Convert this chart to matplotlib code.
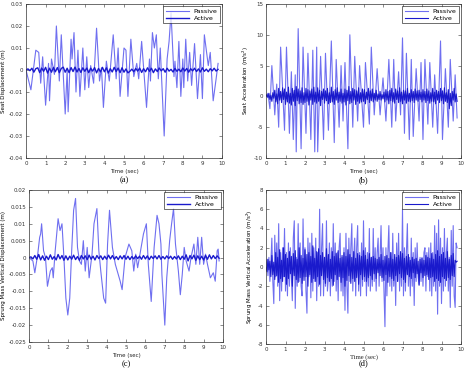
import numpy as np
import matplotlib
matplotlib.use("Agg")
import matplotlib.pyplot as plt

# ---------------- data ----------------
# (a) seat displacement, passive: extrema (time, value)
pa_t = [0, 0.25, 0.5, 0.65, 0.75, 0.85, 1.0, 1.15, 1.2, 1.3, 1.45, 1.55, 1.7, 1.8, 2.0, 2.1, 2.15, 2.3, 2.35,
        2.45, 2.55, 2.65, 2.75, 2.9, 3.0, 3.1, 3.2, 3.3, 3.45, 3.6, 3.75, 3.85, 3.95, 4.1, 4.25, 4.45, 4.6,
        4.7, 4.8, 5.0, 5.1, 5.2, 5.35, 5.5, 5.65, 5.75, 5.9, 6.0, 6.15, 6.3, 6.35, 6.45, 6.55, 6.65, 6.75,
        6.85, 7.05, 7.2, 7.3, 7.4, 7.55, 7.6, 7.7, 7.8, 7.9, 8.0, 8.05, 8.15, 8.25, 8.35, 8.45, 8.6, 8.75,
        8.9, 9.0, 9.1, 9.3, 9.4, 9.55, 9.7, 9.8]
pa_v = [0, -0.009, 0.009, 0.008, -0.006, 0.006, -0.016, 0.003, -0.014, 0.005, -0.002, 0.020, -0.005, 0.016,
        -0.020, 0.0, -0.019, 0.014, 0.005, 0.017, -0.010, 0.009, -0.012, 0.010, -0.009, 0.006, -0.008, 0.002,
        -0.006, 0.019, -0.005, 0.001, -0.017, 0.004, -0.005, 0.016, -0.004, 0.010, -0.012, 0.010, 0.009,
        -0.012, 0.014, -0.003, 0.003, -0.004, 0.013, 0.001, -0.017, 0.005, -0.005, 0.017, 0.010, 0.016,
        -0.004, 0.010, -0.030, 0.005, 0.013, 0.026, -0.003, 0.004, -0.008, 0.013, -0.012, 0.005, -0.008,
        0.014, -0.005, 0.008, -0.007, 0.012, -0.013, 0.007, -0.013, 0.016, 0.002, 0.008, -0.014, -0.004,
        0.003]
# (a) active, sampled every 0.1 s
aa_v = [0, 0.0005, -0.0003, 0.0008, -0.0010, 0.0006, 0.0010, -0.0012, 0.0009, -0.0006,
        0.0012, -0.0014, 0.0008, -0.0010, 0.0012, -0.0008, 0.0011, -0.0012, 0.0007, 0.0013,
        -0.0010, 0.0008, -0.0012, 0.0011, -0.0007, 0.0013, -0.0009, 0.0007, -0.0011, 0.0010,
        -0.0006, 0.0009, -0.0012, 0.0008, -0.0005, 0.0011, -0.0013, 0.0007, -0.0009, 0.0012,
        -0.0008, 0.0010, -0.0014, 0.0006, -0.0009, 0.0012, -0.0007, 0.0009, -0.0012, 0.0010,
        -0.0010, 0.0005, -0.0013, -0.0006, 0.0004, -0.0008, 0.0007, -0.0005, 0.0009, -0.0011,
        0.0006, -0.0008, 0.0010, -0.0006, 0.0008, -0.0012, 0.0005, -0.0007, 0.0009, -0.0004,
        0.0006, -0.0010, 0.0008, -0.0005, 0.0003, -0.0009, 0.0007, -0.0006, 0.0004, -0.0008,
        0.0009, -0.0005, 0.0007, -0.0010, 0.0006, -0.0004, 0.0008, -0.0007, 0.0005, -0.0009,
        0.0010, -0.0006, 0.0004, -0.0008, 0.0006, -0.0004, 0.0008, -0.0005, 0.0003]

# (b) seat acceleration, passive extrema
pb_t = [0, 0.1, 0.2, 0.3, 0.45, 0.55, 0.65, 0.75, 0.95, 1.05, 1.2, 1.3, 1.4, 1.5, 1.55, 1.65, 1.8, 1.9, 2.05,
        2.15, 2.3, 2.4, 2.5, 2.6, 2.65, 2.8, 2.95, 3.05, 3.2, 3.35, 3.5, 3.6, 3.75, 3.85, 3.95, 4.05, 4.2,
        4.3, 4.45, 4.55, 4.7, 4.8, 5.0, 5.1, 5.3, 5.4, 5.55, 5.7, 5.85, 6.0, 6.15, 6.3, 6.45, 6.55, 6.65,
        6.8, 6.9, 7.0, 7.1, 7.2, 7.35, 7.45, 7.55, 7.7, 7.85, 7.95, 8.05, 8.15, 8.3, 8.4, 8.55, 8.65, 8.8,
        8.95, 9.05, 9.2, 9.35, 9.45, 9.6, 9.7, 9.8]
pb_v = [0, 0.5, -2, 5, -3, 2, -5, 8, -5.5, 8, -6, 4, -7, 3.5, -9, 11, -8.5, 8, -6, 7, -7, 7.5, -9, 8, -9,
        6.5, -7, 7, -5.5, 9, -7.5, 6, -5, 5, -4, 5.5, -8.5, 10, -5, 6.5, -4, 5, -5, 5.5, -4.5, 8, -3, 4.5,
        -3, 3, -4, 6, -5, 6, -4, 4, -3, 9.5, -6, 7, -7, 6, -6.5, 4.5, -4, 5.5, -7, 6, -4.5, 5.5, -5, 3.5,
        -6, 9, -7, 4.5, -5, 6, -4, 3.5, -3.5]
# (b) active, sampled every 0.05 s
ab_v = [0, 0.3, -0.2, 0.5, -0.5, 0.2, -0.8, 0.6, -0.3, 1.0, -0.9, 0.4, -1.2, 1.3, -0.6, 0.8, -1.0, 1.4, -0.5, 1.2,
        -1.3, 0.7, -0.9, 1.5, -1.1, 0.5, -1.4, 1.3, -0.8, 1.0, -1.5, 1.6, -0.7, 1.2, -1.2, 0.9, -1.0, 1.4, -1.3, 0.6,
        -1.0, 1.3, -0.8, 1.1, -1.4, 0.9, -0.6, 1.2, -1.3, 1.5, -0.9, 0.7, -1.1, 1.4, -0.8, 1.0, -1.5, 0.8, -0.5, 1.2,
        -1.1, 0.9, -0.7, 1.3, -1.2, 0.6, -1.0, 1.5, -0.9, 0.8, -1.3, 1.1, -0.6, 1.4, -1.0, 0.7, -0.8, 1.2, -1.1, 0.5,
        -0.9, 1.2, -1.4, 1.0, -0.7, 1.6, -1.2, 0.8, -1.0, 1.3, -0.6, 1.1, -1.3, 0.9, -0.8, 1.4, -1.1, 0.6, -0.9, 1.2,
        -0.8, 1.1, -1.2, 0.7, -0.5, 1.3, -1.0, 0.9, -0.7, 1.2, -0.9, 0.5, -0.6, 1.0, -0.8, 0.4, -0.5, 0.8, -0.6, 0.3,
        -0.4, 0.7, -0.9, 1.1, -0.6, 0.8, -1.2, 1.0, -0.7, 1.3, -0.9, 0.6, -1.1, 1.2, -0.5, 0.9, -1.0, 1.4, -0.8, 0.7,
        -1.2, 1.0, -0.6, 0.9, -1.1, 1.3, -0.8, 0.5, -0.9, 1.1, -0.7, 0.8, -1.0, 1.2, -0.6, 0.9, -0.8, 1.0, -0.5, 0.7,
        -0.9, 1.1, -0.6, 0.8, -1.0, 1.2, -0.7, 0.9, -1.1, 0.6, -0.8, 1.3, -0.9, 0.7, -1.2, 1.0, -0.6, 0.8, -1.0, 1.3,
        -0.7, 0.9, -1.2, 1.4, -0.8, 0.6, -1.0, 1.1, -2.0, 0.5, -1.5, 0.8, -0.6, 1.3, -0.9, 0.4, -0.8]

# (c) sprung mass displacement, passive extrema
pc_t = [0, 0.2, 0.3, 0.45, 0.55, 0.6, 0.65, 0.75, 0.85, 0.95, 1.1, 1.2, 1.25, 1.35, 1.5, 1.6, 1.7, 1.8, 1.9,
        2.0, 2.1, 2.2, 2.3, 2.4, 2.5, 2.6, 2.7, 2.8, 2.9, 3.0, 3.1, 3.25, 3.35, 3.5, 3.6, 3.7, 3.85, 3.95,
        4.05, 4.15, 4.3, 4.45, 4.6, 4.7, 4.8, 4.95, 5.05, 5.15, 5.3, 5.4, 5.5, 5.6, 5.75, 5.9, 6.05, 6.15,
        6.3, 6.45, 6.6, 6.7, 6.8, 6.85, 7.0, 7.1, 7.25, 7.35, 7.45, 7.55, 7.7, 7.8, 7.9, 8.0, 8.1, 8.25,
        8.35, 8.5, 8.6, 8.7, 8.8, 8.9, 9.0, 9.1, 9.2, 9.35, 9.5, 9.6, 9.7, 9.75, 9.8]
pc_v = [0, -0.001, -0.0045, 0.001, 0.006, 0.007, 0.010, 0.002, 0.0, -0.0085, -0.004, -0.003, -0.006, 0.002,
        0.0115, 0.008, 0.010, 0.0, -0.012, -0.017, -0.012, 0.002, 0.014, 0.0175, 0.003, -0.001, -0.002,
        0.005, -0.004, 0.003, -0.006, 0.001, 0.010, 0.0145, 0.002, -0.004, -0.012, -0.0135, 0.004, 0.014,
        0.003, -0.002, -0.005, -0.007, -0.0095, 0.0, 0.002, 0.004, 0.002, -0.004, 0.001, -0.003, 0.002,
        0.007, 0.010, -0.002, -0.013, 0.003, 0.0125, 0.010, 0.004, -0.005, -0.020, -0.006, 0.005, 0.010,
        0.0145, 0.004, -0.004, -0.011, -0.005, 0.003, -0.001, -0.004, 0.0, 0.004, -0.002, 0.006, -0.002,
        0.006, -0.002, 0.001, -0.002, -0.006, -0.0045, -0.007, 0.002, 0.0025, -0.001]
# (c) active, sampled every 0.1 s
ac_v = [0, 0.0002, -0.0004, 0.0006, -0.0005, 0.0009, -0.0007, 0.0005, -0.0008, 0.0004,
        -0.0006, 0.0008, -0.0005, 0.0003, -0.0007, 0.0009, -0.0004, 0.0006, -0.0008, 0.0005,
        -0.0007, 0.0004, -0.0005, 0.0007, -0.0006, 0.0003, -0.0008, 0.0006, -0.0004, 0.0005,
        -0.0006, 0.0007, -0.0005, 0.0004, -0.0007, 0.0006, -0.0003, 0.0005, -0.0006, 0.0004,
        -0.0005, 0.0007, -0.0004, 0.0006, -0.0005, 0.0003, -0.0006, 0.0005, -0.0004, 0.0006,
        -0.0005, 0.0004, -0.0006, 0.0003, -0.0004, 0.0005, -0.0003, 0.0004, -0.0005, 0.0006,
        -0.0004, 0.0005, -0.0006, 0.0004, -0.0003, 0.0005, -0.0004, 0.0006, -0.0005, 0.0003,
        -0.0004, 0.0005, -0.0003, 0.0004, -0.0005, 0.0003, -0.0004, 0.0005, -0.0006, 0.0004,
        -0.0005, 0.0008, -0.0010, 0.0006, -0.0004, 0.0007, -0.0008, 0.0005, -0.0006, 0.0004,
        -0.0007, 0.0006, -0.0005, 0.0008, -0.0004, 0.0006, -0.0003, 0.0005, -0.0002]

# (d) sprung mass acceleration, sampled every 0.05 s
pd_v = [0, 0.8, -0.9, 1.0, -1.5, 0.5, 3.0, -1.5, -3.8, 3.3, -1.0, 2.5, -2.0, 4.5, -3.5, 1.5, -2.5, 2.0, -1.0, 4.0,
        -2.5, 1.5, -3.0, 2.5, -2.0, 2.0, -1.0, -3.5, 3.0, 4.8, -4.3, 1.0, -2.0, 4.5, -1.5, 2.5, -2.0, -3.0, 5.0, -1.0,
        2.0, -2.5, -4.8, 3.0, -1.0, 2.5, -3.2, 3.5, -2.5, 2.0, -1.5, 3.0, -3.5, 1.5, -2.0, 6.0, -3.0, 2.0, 4.5, -3.0,
        1.0, -2.0, 4.8, -2.5, -1.0, 2.5, -3.0, 2.0, -2.0, 4.5, -1.5, 2.5, -2.5, 1.5, -3.5, 2.0, 3.5, -2.5, 1.0, -3.0,
        2.0, -4.5, 3.5, -2.0, -4.8, 3.0, -1.5, 2.0, 4.5, -2.5, 1.0, 3.0, -3.0, 2.0, 4.3, -2.5, 1.5, -3.0, 2.5, -2.0,
        4.8, -1.5, 2.0, -3.0, 1.5, -2.0, 4.0, -2.5, 1.0, -2.0, 4.0, -1.5, 2.0, -2.5, 1.5, 3.0, -2.0, 1.0, 4.3, -1.5,
        2.0, -2.5, -6.2, 2.0, -3.0, 1.5, 4.3, -2.0, 1.5, -2.5, 3.5, -2.0, 1.0, -4.0, 2.5, -1.5, 3.5, -2.5, 1.0, -2.0,
        6.0, -3.0, 2.0, -2.5, 1.5, 4.5, -2.0, 1.0, -3.0, 3.0, -2.0, 1.5, -4.0, 2.0, -1.5, 2.5, -1.0, -1.8, 1.0, -1.5,
        1.0, -2.0, 1.5, 2.0, -2.5, 1.5, -1.0, 2.0, -2.5, 2.5, -3.0, 1.5, -2.0, 4.3, -2.5, 3.5, -4.9, 4.9, -2.0, 3.0,
        -3.8, 2.0, -2.5, 4.0, -2.0, 1.5, 3.0, -2.5, 1.0, -4.2, 3.8, -2.0, 4.3, -3.0, -4.2, 2.5, 2.0]
ad_v = [0, -0.5, 0.8, -0.3, 0.6, -1.0, 1.2, -0.8, 0.5, -1.3, 1.5, -0.9, 1.0, -1.6, 1.8, -1.2, 0.7, -1.5, 2.0, -1.0,
        1.3, -1.8, 0.9, -1.2, 1.6, -0.7, 1.1, -2.0, 1.4, -0.9, 1.7, -1.3, 0.8, -1.6, 2.0, -1.1, 1.2, -1.7, 0.9, -1.4,
        1.8, -1.0, 1.3, -2.0, 1.5, -0.8, 1.1, -1.6, 2.2, -1.2, 0.9, -1.5, 1.6, -1.0, 1.9, -1.8, 1.2, -0.9, 1.5, -1.3,
        1.0, -1.7, 1.9, -1.1, 1.3, -1.5, 0.8, -1.2, 1.6, -1.9, 1.1, -0.8, 1.4, -1.3, 1.7, -1.0, 0.9, -1.6, 1.2, -1.1,
        1.5, -2.0, 1.1, -1.4, 1.8, -0.9, 1.3, -1.7, 1.0, -1.2, 1.6, -1.5, 0.9, -1.1, 1.4, -1.8, 1.2, -0.8, 1.1, -1.3,
        1.7, -1.0, 1.2, -1.5, 0.8, -1.1, 1.4, -0.9, 1.0, -1.3, 1.1, -0.7, 0.9, -1.2, 0.8, -0.6, 1.0, -0.9, 1.3, -1.1,
        0.7, -1.4, 1.1, -0.8, 1.2, -1.6, 0.9, -1.0, 1.5, -1.2, 0.8, -1.4, 1.3, -0.9, 1.0, -1.5, 1.2, -0.7, 1.6, -1.1,
        1.4, -1.3, 0.9, -1.6, 1.1, -0.8, 1.3, -1.0, 0.7, -1.2, 1.0, -0.6, 0.8, -1.1, 0.9, -0.7, 0.6, -1.9, 0.8, -0.6,
        0.9, -1.1, 0.7, -0.9, 1.2, -0.8, 1.0, -1.3, 0.9, -1.1, 1.4, -1.0, 0.8, -1.5, 1.3, -1.2, 1.7, -1.4, 1.1, -1.6,
        1.3, -1.0, 1.5, -1.2, 0.9, -1.4, 1.6, -1.1, 0.8, -1.3, 1.2, -0.9, 1.4, -1.0, 0.7, 0.5, 0.6]

t_coarse = np.arange(len(aa_v)) * 0.1
t_fine = np.arange(len(ab_v)) * 0.05

# ---------------- style ----------------
PASSIVE = "#6f6ff0"
ACTIVE = "#1a1acc"
FS = 4.0
LFS = 4.6

fig = plt.figure(figsize=(4.67, 3.69), dpi=100)
W, H = 467.0, 369.0

def make_ax(left, top, right, bottom):
    return fig.add_axes([left / W, 1 - bottom / H, (right - left) / W, (bottom - top) / H])

panels = [
    dict(box=(26, 4, 222, 158), ylim=(-0.04, 0.03), yticks=np.arange(-0.04, 0.031, 0.01),
         yfmt=lambda v: "0" if abs(v) < 1e-9 else f"{v:.2f}",
         ylabel="Seat Displacement (m)", tag="(a)", xl_serif=False, xl_off=14, tag_off=22,
         p=(pa_t, pa_v), a=(t_coarse, aa_v), alw=1.0),
    dict(box=(266, 4, 461, 158), ylim=(-10, 15), yticks=np.arange(-10, 16, 5),
         yfmt=lambda v: f"{v:g}",
         ylabel="Seat Acceleration (m/s$^2$)", tag="(b)", xl_serif=False, xl_off=14, tag_off=22,
         p=(pb_t, pb_v), a=(t_fine, ab_v), alw=0.8),
    dict(box=(29, 190, 223, 342), ylim=(-0.025, 0.02), yticks=np.arange(-0.025, 0.0201, 0.005),
         yfmt=lambda v: "0" if abs(v) < 1e-9 else f"{v:.3f}".rstrip("0"),
         ylabel="Sprung Mass Vertical Displacement (m)", tag="(c)", xl_serif=False, xl_off=14, tag_off=22,
         p=(pc_t, pc_v), a=(t_coarse, ac_v), alw=1.0),
    dict(box=(266, 190, 461, 344), ylim=(-8, 8), yticks=np.arange(-8, 9, 2),
         yfmt=lambda v: f"{v:g}",
         ylabel="Sprung Mass Vertical Acceleration (m/s$^2$)", tag="(d)", xl_serif=True, xl_off=13, tag_off=19,
         p=(t_fine, pd_v), a=(t_fine, ad_v), alw=0.8),
]

for pnl in panels:
    ax = make_ax(*pnl["box"])
    ax.plot(pnl["p"][0], pnl["p"][1], color=PASSIVE, lw=0.8, label="Passive")
    ax.plot(pnl["a"][0], pnl["a"][1], color=ACTIVE, lw=pnl["alw"], label="Active")
    ax.set_xlim(0, 10)
    ax.set_ylim(*pnl["ylim"])
    ax.set_xticks(range(11))
    ax.set_yticks(pnl["yticks"])
    ax.set_yticklabels([pnl["yfmt"](v) for v in pnl["yticks"]])
    ax.tick_params(direction="in", length=2, width=0.4, labelsize=FS, pad=2,
                   top=True, right=True, colors="#333333")
    for s in ax.spines.values():
        s.set_linewidth(0.5)
        s.set_color("#333333")
    xl_family = "Liberation Serif" if pnl["xl_serif"] else "DejaVu Sans"
    ax.annotate("Time (sec)", xy=(0.5, 0), xycoords="axes fraction",
                xytext=(0, -pnl["xl_off"] * 0.72), textcoords="offset points",
                ha="center", va="center", fontsize=FS + (0.8 if pnl["xl_serif"] else 0),
                family=xl_family, color="#222222")
    ax.set_ylabel(pnl["ylabel"], fontsize=FS, labelpad=2)
    ax.annotate(pnl["tag"], xy=(0.5, 0), xycoords="axes fraction",
                xytext=(0, -pnl["tag_off"] * 0.72), textcoords="offset points",
                ha="center", va="center", fontsize=6, family="Liberation Serif")
    leg = ax.legend(loc="upper right", fontsize=LFS, frameon=True, fancybox=False,
                    borderpad=0.35, handlelength=3.6, labelspacing=0.25, borderaxespad=0.35)
    leg.get_frame().set_edgecolor("black")
    leg.get_frame().set_linewidth(0.5)

fig.savefig("out.png", dpi=100)
